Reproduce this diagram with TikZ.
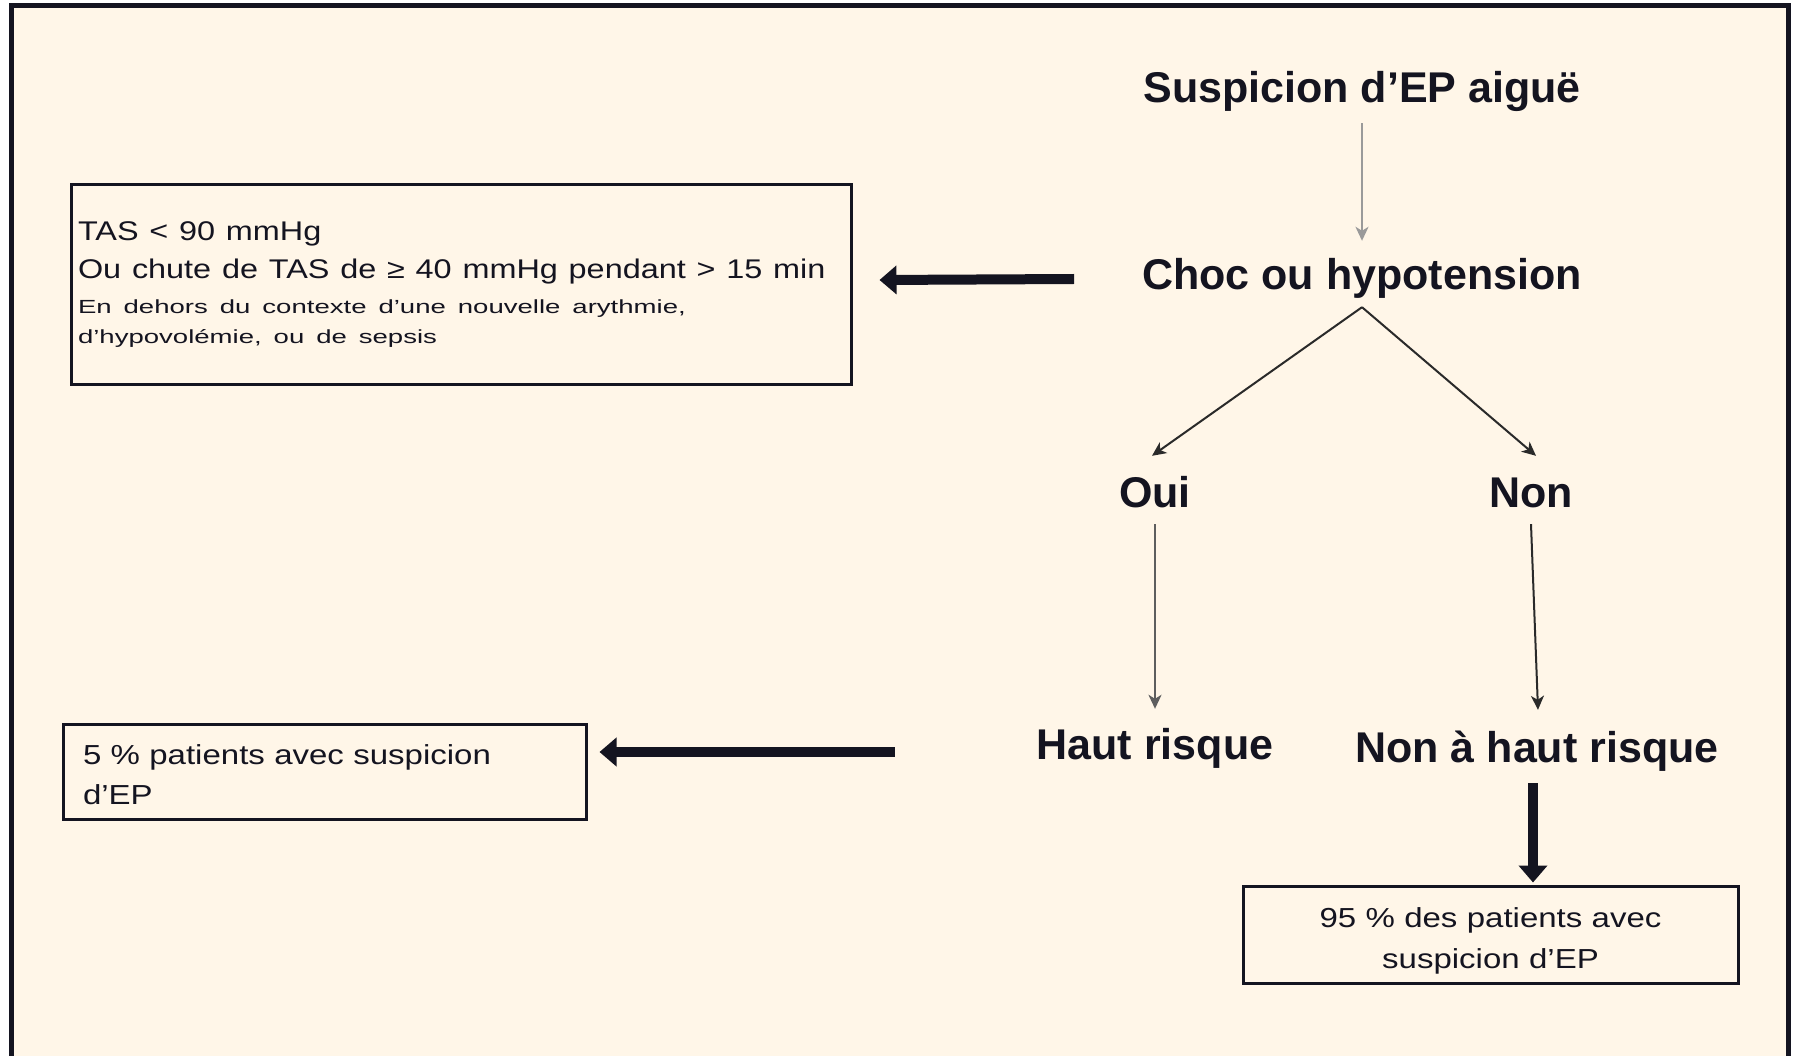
\documentclass[tikz,border=0pt]{standalone}
\usepackage{fontspec}
\setmainfont{Liberation Sans}
\newfontfamily\boxfont[FakeStretch=1.2]{Liberation Sans}
\newfontfamily\notefont[FakeStretch=1.45]{Liberation Sans}
\usetikzlibrary{arrows.meta}
\definecolor{paper}{HTML}{FFF6E8}
\definecolor{ink}{HTML}{141420}
\definecolor{lightline}{HTML}{9A9A9A}
\definecolor{midline}{HTML}{5E5E5E}
\definecolor{darkline}{HTML}{2A2A2A}
% wide, stretched body text used inside the side boxes: size, leading, word space
\newcommand\boxtext[3]{\boxfont\fontsize{#1}{#2}\selectfont\spaceskip=#3em\relax}
\newcommand\notetext[3]{\notefont\fontsize{#1}{#2}\selectfont\spaceskip=#3em\relax}
\begin{document}
\begin{tikzpicture}[x=1pt,y=-1pt,
  title/.style={font=\fontsize{43}{50}\selectfont\bfseries, text=ink,
    inner sep=0pt, text height=32pt, text depth=10pt, anchor=base},
  infobox/.style={draw=ink, line width=3pt, fill=paper, inner ysep=0pt, text=ink},
  thinarrow/.style={line width=2pt, -{Stealth[length=14pt,width=13pt,inset=4pt]}},
  bigarrow/.style={line width=10pt, draw=ink, -{Triangle[length=17pt,width=28pt]}}
]
\useasboundingbox (0,0) rectangle (1797,1056);
\fill[white] (0,0) rectangle (1797,1056);
% cream panel, open at the bottom
\fill[paper] (11,6) rectangle (1788,1070);
\draw[line width=5pt, ink] (11,1070) -- (11,6) -- (1788,6) -- (1788,1070);

% decision tree labels
\node[title] (sus) at (1362,103) {Suspicion d’EP aiguë};
\node[title] (choc) at (1362,290) {Choc ou hypotension};
\node[title] (oui) at (1155,507) {Oui};
\node[title] (non) at (1531,507) {Non};
\node[title] (haut) at (1155,759) {Haut risque};
\node[title] (nonhaut) at (1537,762) {Non à haut risque};

% side boxes
\node[infobox, minimum width=780pt, minimum height=200pt, inner xsep=7pt,
      text width=766pt, align=left] (tas) at (461,285)
  {{\boxtext{27}{38}{0.40}TAS < 90 mmHg\\
    Ou chute de TAS de ≥ 40 mmHg pendant > 15 min\par}
   \vspace{5pt}
   {\notetext{19}{30}{0.63}En dehors du contexte d’une nouvelle arythmie,\\
    d’hypovolémie, ou de sepsis\par}};

\node[infobox, minimum width=523pt, minimum height=95pt, inner xsep=20pt,
      text width=483pt, align=left] (box5) at (324.5,771.5)
  {\boxtext{27.5}{40}{0.34}\rule{0pt}{27pt}5 \% patients avec suspicion\\d’EP\par};

\node[infobox, minimum width=495pt, minimum height=97pt, inner xsep=10pt,
      text width=475pt, align=center] (box95) at (1490.5,934.5)
  {\boxtext{27.5}{41}{0.34}\rule{0pt}{32pt}95 \% des patients avec\\suspicion d’EP\par};

% connectors
\draw[thinarrow, draw=lightline] ([yshift=-10pt]sus.south) -- ([yshift=17pt]choc.north);
\draw[thinarrow, draw=darkline] ([yshift=-7pt]choc.south) -- ([xshift=-3pt,yshift=19pt]oui.north);
\draw[thinarrow, draw=darkline] ([yshift=-7pt]choc.south) -- ([xshift=5pt,yshift=19pt]non.north);
\draw[thinarrow, draw=midline] ([yshift=-7pt]oui.south) -- ([yshift=18pt]haut.north);
\draw[thinarrow, draw=darkline] ([yshift=-7pt]non.south) -- ([xshift=1pt,yshift=20pt]nonhaut.north);

\draw[bigarrow] ([xshift=-68pt]choc.west) -- ([xshift=27pt,yshift=5pt]tas.east);
\draw[bigarrow] ([xshift=-142pt,yshift=-4pt]haut.west) -- ([xshift=12pt,yshift=19.5pt]box5.east);
\draw[bigarrow] ([xshift=-4pt,yshift=-11pt]nonhaut.south) -- ([xshift=42.5pt,yshift=2pt]box95.north);
\end{tikzpicture}
\end{document}
